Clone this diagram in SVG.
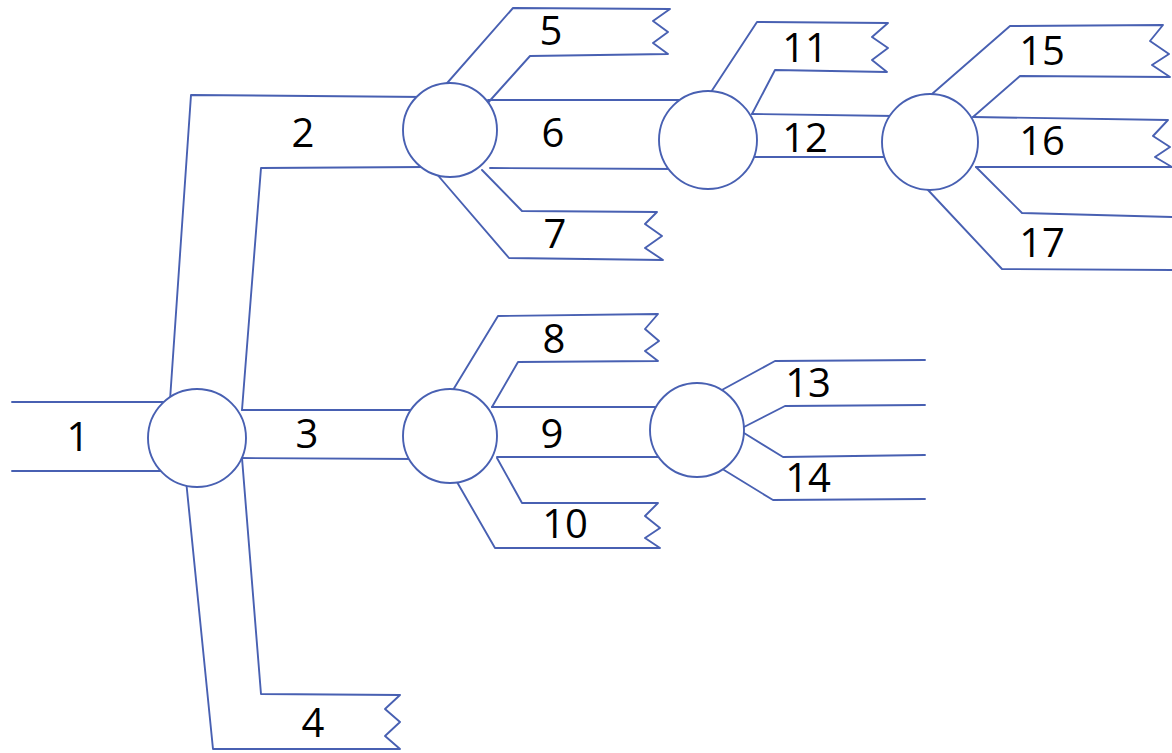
<svg xmlns="http://www.w3.org/2000/svg" width="1172" height="753" viewBox="0 0 1172 753">
<style>
.p{fill:none;stroke:#4860b2;stroke-width:1.9;stroke-linejoin:round;stroke-linecap:round}
.n{fill:#ffffff;stroke:#4860b2;stroke-width:1.9}
.t{font-family:"Open Sans","Liberation Sans",Arial,sans-serif;font-size:40px;fill:#000000;text-anchor:middle}
</style>
<rect width="1172" height="753" fill="#ffffff"/>
<g id="connectors">
  <g id="pipe-1"><path class="p" d="M12,402 L168,402 M12,471 L165,471"/><text class="t" x="78" y="451">1</text></g>
  <g id="pipe-2"><path class="p" d="M170,400 L191,95 L425,97 M242,410 L261,168 L425,167"/><text class="t" x="303" y="147">2</text></g>
  <g id="pipe-3"><path class="p" d="M242,410 L415,410 M240,458 L415,459"/><text class="t" x="307" y="448">3</text></g>
  <g id="pipe-4"><path class="p" d="M186,480 L213,749 L400,749 L385,736 L400,722 L385,709 L400,695 L261,694 L242,458"/><text class="t" x="313" y="737">4</text></g>
  <g id="pipe-5"><path class="p" d="M441,90 L513,8 L670,9 L653,21 L668,32 L653,43 L668,54 L530,56 L486,105"/><text class="t" x="551" y="45">5</text></g>
  <g id="pipe-6"><path class="p" d="M488,100 L690,100 M490,168 L675,169"/><text class="t" x="553" y="147">6</text></g>
  <g id="pipe-7"><path class="p" d="M482,170 L522,211 L657,212 L645,224 L662,236 L645,248 L663,260 L509,258 L435,172"/><text class="t" x="555" y="248">7</text></g>
  <g id="pipe-8"><path class="p" d="M453,390 L498,316 L658,314 L645,329 L659,341 L645,351 L658,361 L518,362 L492,407"/><text class="t" x="554" y="353">8</text></g>
  <g id="pipe-9"><path class="p" d="M492,407 L665,407 M497,457 L665,457"/><text class="t" x="552" y="448">9</text></g>
  <g id="pipe-10"><path class="p" d="M497,458 L522,503 L658,503 L645,516 L660,528 L645,538 L660,548 L495,548 L457,482"/><text class="t" x="565" y="538">10</text></g>
  <g id="pipe-11"><path class="p" d="M711,92 L757,22 L888,23 L872,37 L888,48 L872,60 L887,72 L775,70 L752,114"/><text class="t" x="805" y="62">11</text></g>
  <g id="pipe-12"><path class="p" d="M752,114 L895,116 M755,157 L890,157"/><text class="t" x="805" y="152">12</text></g>
  <g id="pipe-13"><path class="p" d="M720,391 L775,361 L925,360 M744,427 L785,406 L925,405"/><text class="t" x="808" y="397">13</text></g>
  <g id="pipe-14"><path class="p" d="M744,433 L783,457 L925,455 M724,470 L773,500 L925,499"/><text class="t" x="808" y="492">14</text></g>
  <g id="pipe-15"><path class="p" d="M932,94 L1010,26 L1163,25 L1150,41 L1169,54 L1152,65 L1170,77 L1020,76 L973,117"/><text class="t" x="1042" y="65">15</text></g>
  <g id="pipe-16"><path class="p" d="M973,117 L1168,120 L1153,136 L1170,147 L1155,157 L1172,167 L976,167"/><text class="t" x="1042" y="155">16</text></g>
  <g id="pipe-17"><path class="p" d="M976,167 L1022,213 L1172,217 M928,190 L1002,269 L1172,270"/><text class="t" x="1042" y="257">17</text></g>
</g>
<g id="junction-a"><circle class="n" cx="197" cy="438" r="49"/></g>
<g id="junction-b"><circle class="n" cx="450" cy="130" r="47"/></g>
<g id="junction-c"><circle class="n" cx="708" cy="140" r="49"/></g>
<g id="junction-d"><circle class="n" cx="930" cy="142" r="48"/></g>
<g id="junction-e"><circle class="n" cx="450" cy="436" r="47"/></g>
<g id="junction-f"><circle class="n" cx="697" cy="430" r="47"/></g>
</svg>
